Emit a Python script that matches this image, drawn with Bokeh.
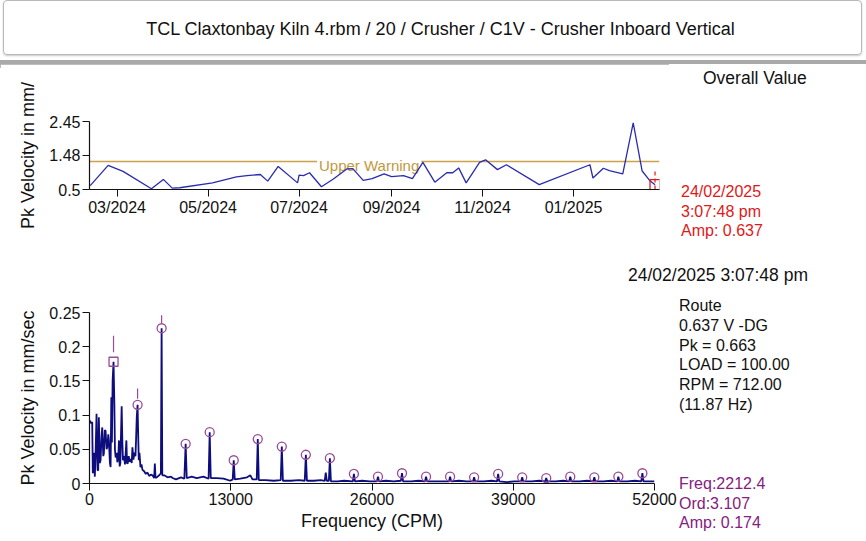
import pandas as pd
from bokeh.plotting import figure
from bokeh.layouts import column, row
from bokeh.models import (Div, FixedTicker, Label, Span, Range1d,
                          ColumnDataSource, DatetimeTickFormatter)
from bokeh.embed import file_html
from bokeh.resources import INLINE

FONT = "Liberation Sans"

# ---------------- data ----------------
title_text = "TCL Claxtonbay Kiln 4.rbm / 20 / Crusher / C1V - Crusher Inboard Vertical"

trend_dates = [
    "2024-02-12", "2024-02-24", "2024-03-05", "2024-03-24", "2024-04-01",
    "2024-04-07", "2024-04-12", "2024-05-04", "2024-05-20", "2024-05-27",
    "2024-06-05", "2024-06-10", "2024-06-17", "2024-06-30", "2024-07-01",
    "2024-07-04", "2024-07-08", "2024-07-16", "2024-07-24", "2024-08-02",
    "2024-08-06", "2024-08-13", "2024-08-19", "2024-08-27", "2024-09-01",
    "2024-09-09", "2024-09-15", "2024-09-22", "2024-09-30", "2024-10-08",
    "2024-10-12", "2024-10-16", "2024-10-21", "2024-10-30", "2024-11-03",
    "2024-11-11", "2024-11-17", "2024-12-09", "2025-01-12", "2025-01-14",
    "2025-01-21", "2025-01-25", "2025-02-03", "2025-02-10", "2025-02-16",
    "2025-02-21", "2025-02-24 15:07:48",
]
trend_values = [
    0.61, 1.19, 1.02, 0.52, 0.79,
    0.54, 0.55, 0.69, 0.86, 0.90,
    0.93, 0.74, 1.16, 0.69, 0.91,
    0.90, 0.98, 0.58, 0.80, 1.09,
    1.10, 0.76, 0.81, 0.95, 0.87,
    0.90, 0.81, 1.28, 0.71, 0.98,
    0.98, 1.12, 0.69, 1.28, 1.35,
    1.07, 1.21, 0.64, 1.21, 0.83,
    1.11, 1.04, 0.95, 2.41, 1.03,
    0.76, 0.637,
]
trend_start = "2024-02-11 12:00"
trend_end = "2025-02-27 15:00"
warning_level = 1.3
warning_label_date = "2024-07-13"
trend_tick_labels = ["03/2024", "05/2024", "07/2024", "09/2024", "11/2024", "01/2025"]
trend_y_ticks = [0.5, 1.48, 2.45]
trend_y_labels = ["0.5", "1.48", "2.45"]

spec_freq = [
    0, 157, 250, 305, 398, 490, 555, 648, 740, 805,
    860, 953, 1018, 1110, 1175, 1268, 1323, 1416, 1480, 1573,
    1638, 1730, 1786, 1878, 1943, 2008, 2063, 2128, 2212, 2285,
    2341, 2406, 2498, 2563, 2656, 2711, 2776, 2840, 2896, 2961,
    3026, 3081, 3174, 3266, 3331, 3395, 3451, 3516, 3609, 3701,
    3794, 3886, 3951, 4044, 4136, 4229, 4284, 4349, 4425, 4469,
    4534, 4599, 4691, 4784, 4876, 5028, 5182, 5336, 5490, 5644,
    5798, 5952, 6014, 6076, 6261, 6415, 6570, 6637, 6700, 6878,
    7187, 7495, 7650, 7958, 8420, 8728, 8850, 8950, 9408, 9870,
    10487, 10960, 11062, 11160, 11720, 12337, 12954, 13180, 13274, 13370,
    13880, 14500, 14805, 15000, 15390, 15487, 15580, 16193, 16964, 17600,
    17699, 17800, 18506, 19277, 19810, 19912, 20010, 20663, 21280, 21650,
    21745, 21840, 22030, 22124, 22220, 22830, 23440, 24240, 24336, 24430,
    25100, 25800, 26450, 26549, 26650, 27300, 28000, 28660, 28761, 28860,
    29600, 30300, 30874, 30974, 31074, 31800, 32500, 33086, 33186, 33286,
    34000, 34700, 35298, 35398, 35498, 36300, 37000, 37511, 37611, 37711,
    38400, 39100, 39723, 39823, 39923, 40700, 41400, 41936, 42036, 42136,
    42900, 43600, 44148, 44248, 44348, 45100, 45800, 46360, 46460, 46560,
    47300, 48000, 48573, 48673, 48773, 49500, 50200, 50785, 50885, 50985,
    51500, 52000,
]
spec_amp = [
    0.092, 0.088, 0.090, 0.015, 0.045, 0.010, 0.040, 0.102, 0.020, 0.019,
    0.097, 0.030, 0.034, 0.070, 0.082, 0.040, 0.044, 0.078, 0.077, 0.050,
    0.053, 0.072, 0.063, 0.030, 0.024, 0.126, 0.060, 0.150, 0.178, 0.120,
    0.050, 0.038, 0.045, 0.031, 0.040, 0.063, 0.025, 0.030, 0.070, 0.113,
    0.060, 0.034, 0.040, 0.028, 0.045, 0.063, 0.030, 0.029, 0.040, 0.032,
    0.036, 0.030, 0.053, 0.035, 0.045, 0.040, 0.063, 0.097, 0.115, 0.080,
    0.034, 0.045, 0.024, 0.028, 0.020, 0.018, 0.014, 0.016, 0.011, 0.013,
    0.012, 0.008, 0.029, 0.008, 0.010, 0.012, 0.015, 0.227, 0.012, 0.012,
    0.009, 0.010, 0.008, 0.006, 0.009, 0.007, 0.058, 0.008, 0.010, 0.008,
    0.010, 0.007, 0.075, 0.008, 0.008, 0.007, 0.004, 0.006, 0.034, 0.006,
    0.007, 0.009, 0.012, 0.006, 0.006, 0.065, 0.005, 0.005, 0.004, 0.005,
    0.054, 0.004, 0.004, 0.005, 0.004, 0.042, 0.004, 0.004, 0.005, 0.004,
    0.016, 0.004, 0.004, 0.037, 0.003, 0.003, 0.004, 0.003, 0.014, 0.003,
    0.004, 0.003, 0.003, 0.010, 0.003, 0.004, 0.003, 0.004, 0.015, 0.003,
    0.003, 0.004, 0.003, 0.010, 0.003, 0.003, 0.003, 0.003, 0.010, 0.003,
    0.004, 0.003, 0.003, 0.009, 0.003, 0.003, 0.004, 0.003, 0.014, 0.003,
    0.002, 0.003, 0.003, 0.009, 0.003, 0.003, 0.004, 0.003, 0.008, 0.003,
    0.003, 0.004, 0.003, 0.010, 0.003, 0.003, 0.004, 0.003, 0.009, 0.003,
    0.003, 0.004, 0.003, 0.010, 0.003, 0.003, 0.004, 0.003, 0.015, 0.003,
    0.003, 0.003,
]

marker_freq = [2212, 4425, 6637, 8850, 11062, 13274, 15487, 17699, 19912, 22124,
               24336, 26549, 28761, 30974, 33186, 35398, 37611, 39823, 42036, 44248,
               46460, 48673, 50885]
marker_amp = [0.178, 0.115, 0.227, 0.058, 0.075, 0.034, 0.065, 0.054, 0.042, 0.037,
              0.014, 0.010, 0.015, 0.010, 0.010, 0.009, 0.014, 0.009, 0.008, 0.010,
              0.009, 0.010, 0.015]
marker_kind = ["square"] + ["circle"] * 22
cursor_freq = [2212, 4425, 6637]
cursor_lo = [0.192, 0.124, 0.234]
cursor_hi = [0.216, 0.139, 0.246]

spec_x_ticks = [0, 13000, 26000, 39000, 52000]
spec_y_ticks = [0, 0.05, 0.1, 0.15, 0.2, 0.25]
spec_y_labels = ["0", "0.05", "0.1", "0.15", "0.2", "0.25"]

overall_title = "Overall Value"
reading_stamp = "24/02/2025 3:07:48 pm"
reading_lines = ["24/02/2025", "3:07:48 pm", "Amp: 0.637"]
info_lines = ["Route", "0.637 V -DG", "Pk = 0.663", "LOAD = 100.00", "RPM = 712.00", "(11.87 Hz)"]
cursor_lines = ["Freq:2212.4", "Ord:3.107", "Amp: 0.174"]


def to_ms(s, fmt=None):
    t = pd.to_datetime(s, format=fmt)
    return float((t - pd.Timestamp("1970-01-01")) // pd.Timedelta(milliseconds=1))


AXIS_COLOR = "#111111"
RED = "#e01818"
PURPLE = "#85207f"
MARK = "#9a4a9a"


def style_axes(p):
    for ax in (p.xaxis[0], p.yaxis[0]):
        ax.axis_line_color = AXIS_COLOR
        ax.axis_line_width = 1.2
        ax.major_tick_line_color = AXIS_COLOR
        ax.major_tick_out = 7
        ax.major_tick_in = 0
        ax.minor_tick_line_color = None
        ax.major_label_text_font = FONT
        ax.major_label_text_font_size = "16px"
        ax.major_label_text_color = AXIS_COLOR
        ax.axis_label_text_font = FONT
        ax.axis_label_text_font_size = "18px"
        ax.axis_label_text_font_style = "normal"
        ax.axis_label_text_color = AXIS_COLOR
    p.xaxis.major_label_standoff = 2
    p.yaxis.major_label_standoff = 2
    p.yaxis.axis_label_standoff = 8
    p.xgrid.grid_line_color = None
    p.ygrid.grid_line_color = None
    p.outline_line_color = None


def text_div(width, height, items):
    """items: (left or None, right or None, top, text, color, size)"""
    parts = []
    for left, right, top, s, color, size in items:
        pos = f"left:{left}px;" if left is not None else f"right:{right}px;"
        parts.append(f'<div style="position:absolute;{pos}top:{top}px;line-height:20px;'
                     f'white-space:nowrap;color:{color};font-size:{size};">{s}</div>')
    html = (f'<div style="position:relative;width:{width}px;height:{height}px;'
            f'font-family:\'{FONT}\';background:#ffffff;">' + "".join(parts) + "</div>")
    return Div(text=html, width=width, height=height, margin=0)


# ---------------- header ----------------
title_div = Div(
    text=('<div style="position:relative;width:866px;height:56px;background:#ffffff;">'
          '<div style="position:absolute;left:3px;top:0px;width:859px;height:55px;box-sizing:border-box;'
          'border:1px solid #b8b8b8;border-radius:4px;box-shadow:0 1px 2px #c8c8c8;'
          f'font-family:\'{FONT}\';font-size:18px;color:#111;text-align:center;'
          f'padding-top:16px;padding-left:16px;">{title_text}</div></div>'),
    width=866, height=56, margin=0)
band_div = Div(text='<div style="width:866px;height:8px;background:#a9a9a9;"></div>',
               width=866, height=8, margin=0)

# ---------------- trend plot ----------------
trend_x = [to_ms(d) for d in trend_dates]
p1 = figure(frame_width=570, frame_height=68,
            min_border_left=89, min_border_right=10, min_border_top=57, min_border_bottom=69,
            x_axis_type="datetime",
            x_range=Range1d(to_ms(trend_start), to_ms(trend_end)),
            y_range=Range1d(trend_y_ticks[0], trend_y_ticks[-1]),
            toolbar_location=None, output_backend="svg",
            background_fill_color="white", border_fill_color="white")
style_axes(p1)
tick_ms = [to_ms(t, "%m/%Y") for t in trend_tick_labels]
p1.xaxis.ticker = FixedTicker(ticks=tick_ms)
p1.xaxis.formatter = DatetimeTickFormatter(days="%m/%Y", months="%m/%Y", years="%m/%Y")
p1.xaxis.major_label_overrides = {t: l for t, l in zip(tick_ms, trend_tick_labels)}
p1.yaxis.ticker = FixedTicker(ticks=trend_y_ticks)
p1.yaxis.major_label_overrides = {t: l for t, l in zip(trend_y_ticks, trend_y_labels)}
p1.yaxis.axis_label = "Pk Velocity in mm/"

p1.add_layout(Span(location=warning_level, dimension="width", line_color="#c9a24a",
                   line_width=1.5, level="underlay"))
p1.add_layout(Label(x=to_ms(warning_label_date), y=warning_level, text="Upper Warning",
                    text_color="#c09a3e", text_font=FONT, text_font_size="15px",
                    text_baseline="middle", y_offset=-4, padding=2,
                    background_fill_color="white", level="underlay"))
p1.line(trend_x, trend_values, line_color="#2b2bb0", line_width=1.3)
p1.segment(x0=[trend_x[-1]], y0=[trend_y_ticks[0]], x1=[trend_x[-1]],
           y1=[trend_values[-1] + 0.4], line_color=RED, line_width=1.2, line_dash="4 3")
p1.scatter([trend_x[-1]], [trend_values[-1]], marker="square", size=10,
           fill_color=None, line_color=RED, line_width=1.3)

side1 = text_div(866 - 669, 194, [
    (34, None, 4, overall_title, "#111111", "17.5px"),
    (12, None, 118, reading_lines[0], RED, "16px"),
    (12, None, 138, reading_lines[1], RED, "16px"),
    (12, None, 157, reading_lines[2], RED, "16px"),
])

# ---------------- spectrum plot ----------------
head2 = text_div(866, 30, [(None, 58, 7, reading_stamp, "#111111", "17.5px")])

p2 = figure(frame_width=565, frame_height=171,
            min_border_left=89, min_border_right=24, min_border_top=24, min_border_bottom=50,
            x_range=Range1d(spec_x_ticks[0], spec_x_ticks[-1]),
            y_range=Range1d(spec_y_ticks[0], spec_y_ticks[-1]),
            toolbar_location=None, output_backend="svg",
            background_fill_color="white", border_fill_color="white")
style_axes(p2)
p2.xaxis.ticker = FixedTicker(ticks=spec_x_ticks)
p2.xaxis.major_label_overrides = {t: str(t) for t in spec_x_ticks}
p2.yaxis.ticker = FixedTicker(ticks=spec_y_ticks)
p2.yaxis.major_label_overrides = {t: l for t, l in zip(spec_y_ticks, spec_y_labels)}
p2.yaxis.axis_label = "Pk Velocity in mm/sec"
p2.xaxis.axis_label = "Frequency (CPM)"
p2.xaxis.axis_label_standoff = 3

p2.line(spec_freq, spec_amp, line_color="#0d0d7e", line_width=1.8)
msrc = ColumnDataSource(dict(f=marker_freq, a=marker_amp, m=marker_kind))
p2.scatter("f", "a", marker="m", source=msrc, size=9, fill_color=None,
           line_color=MARK, line_width=1.3)
p2.segment(x0=cursor_freq, y0=cursor_lo, x1=cursor_freq, y1=cursor_hi,
           line_color=MARK, line_width=1.2)

side2_items = [(1, None, 8 + round(i * 19.8), s, "#111111", "16px") for i, s in enumerate(info_lines)]
side2_items += [(1, None, 186 + round(i * 19.5), s, PURPLE, "16px") for i, s in enumerate(cursor_lines)]
side2 = text_div(866 - 678, 245, side2_items)

layout = column(title_div, band_div, row(p1, side1, spacing=0), head2,
                row(p2, side2, spacing=0), spacing=0)
open("out.html", "w").write(file_html(layout, INLINE))
